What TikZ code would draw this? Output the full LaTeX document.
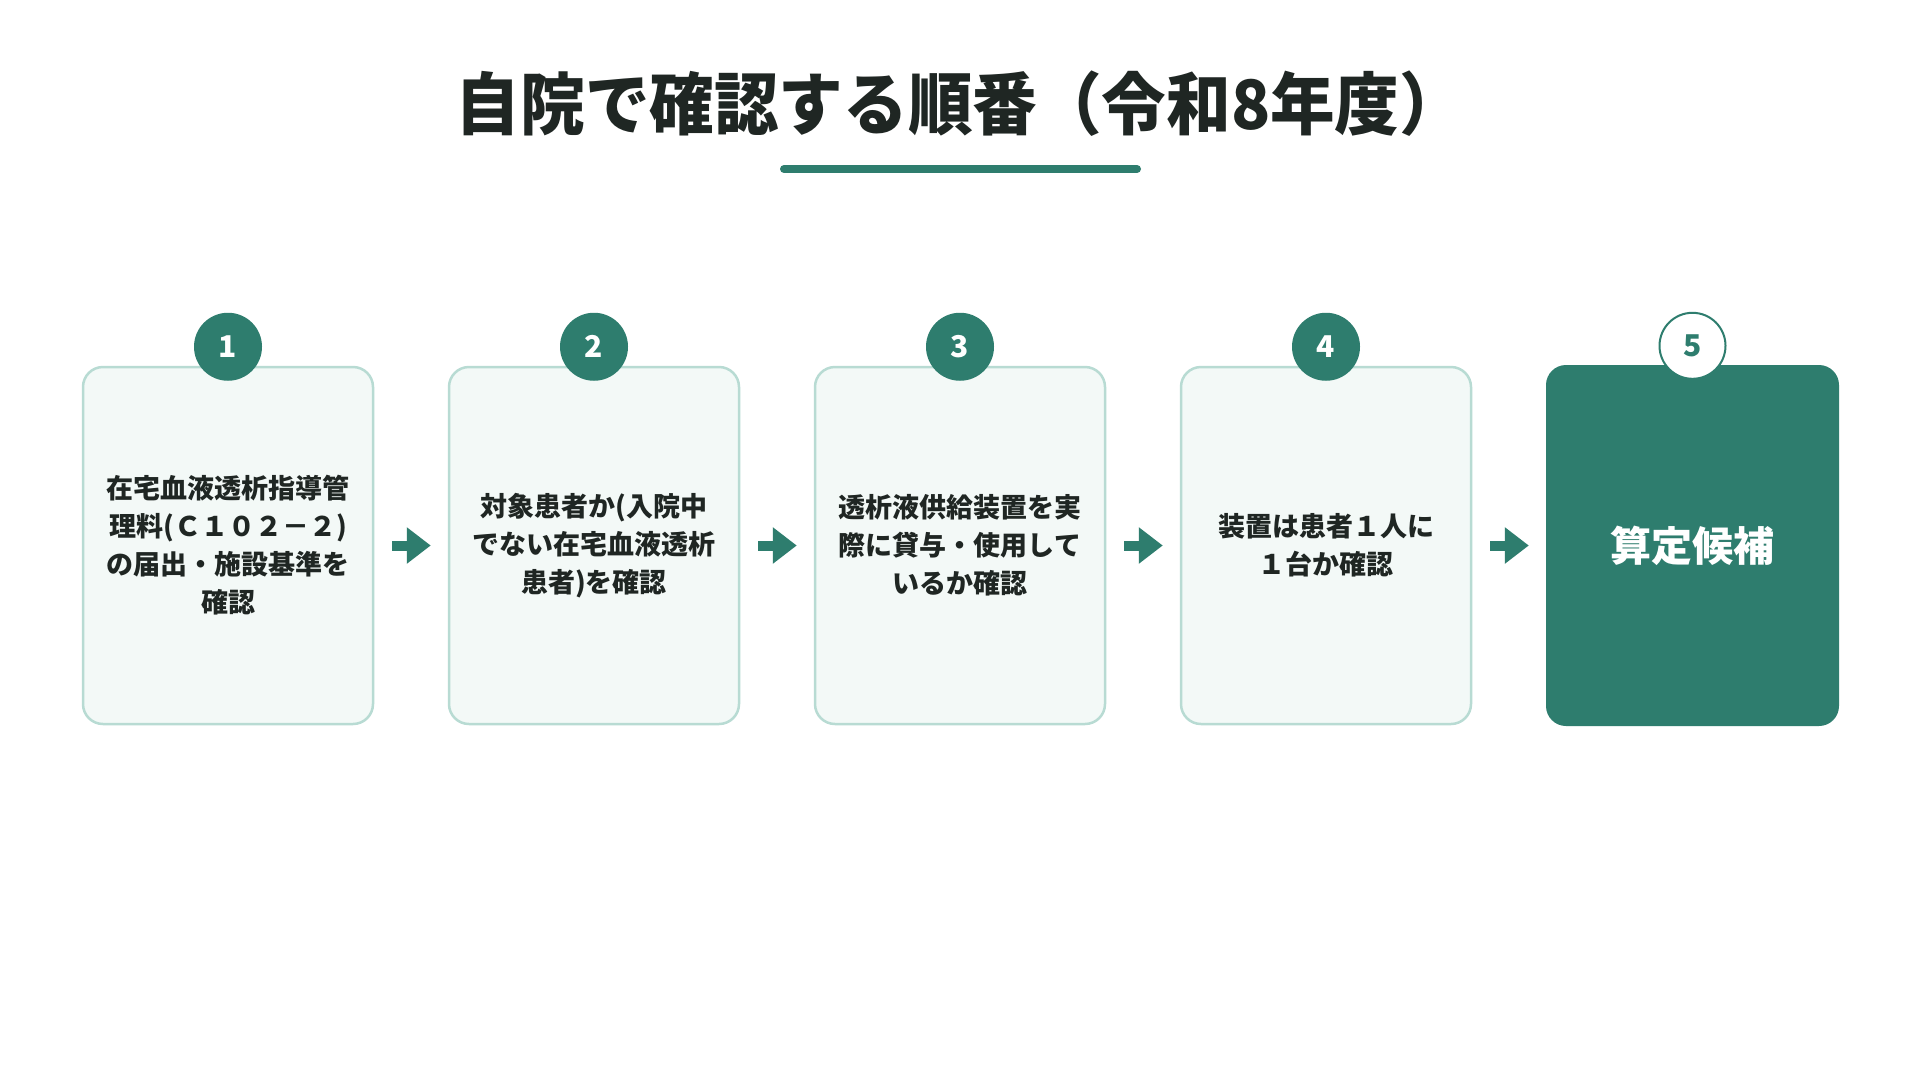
\documentclass[tikz,border=0pt]{standalone}
\usepackage{fontspec}
\usetikzlibrary{arrows.meta}
\newfontfamily\jpblack{Noto Sans CJK JP Black}
\definecolor{teal}{HTML}{2E7D6E}
\definecolor{bordc}{HTML}{B8DBD3}
\definecolor{boxfill}{HTML}{F3F9F7}
\definecolor{ink}{HTML}{1F2623}
\tikzset{
  stepbox/.style={draw=bordc, fill=boxfill, line width=2.5pt, rounded corners=20pt,
    minimum width=290pt, minimum height=357pt, inner sep=0pt},
  finalbox/.style={fill=teal, rounded corners=20pt, minimum width=293pt, minimum height=361pt, inner sep=0pt},
  boxtext/.style={text=ink, align=center, font=\jpblack\fontsize{27}{38}\selectfont},
  numcirc/.style={circle, fill=teal, minimum size=68pt, inner sep=0pt, text=white,
    font=\jpblack\fontsize{30}{30}\selectfont},
  numcircw/.style={circle, fill=white, draw=teal, line width=2pt, minimum size=66pt, inner sep=0pt, text=teal,
    font=\jpblack\fontsize{30}{30}\selectfont},
  flowarrow/.style={draw=teal, line width=10pt, -{Triangle[length=24pt,width=35pt]},
    shorten <=18pt, shorten >=17pt}
}
\begin{document}
\begin{tikzpicture}[x=1pt,y=-1pt]
\useasboundingbox[fill=white] (0,0) rectangle (1920,1080);
% title
\node[text=ink, font=\jpblack\fontsize{68}{68}\selectfont, inner sep=0pt, xscale=0.95] (title) at (960,104) {自院で確認する順番（令和8年度）};
\coordinate (ulA) at (784,169);
\coordinate (ulB) at (1137,169);
\draw[teal, line width=8pt, line cap=round] (ulA) -- (ulB);
% boxes
\node[stepbox] (b1) at (228,545.5) {};
\node[stepbox] (b2) at (594,545.5) {};
\node[stepbox] (b3) at (960,545.5) {};
\node[stepbox] (b4) at (1326,545.5) {};
\node[finalbox] (b5) at (1692.5,545.5) {};
% texts
\node[boxtext] (t1) at (b1.center) {在宅血液透析指導管\\理料(Ｃ１０２－２)\\の届出・施設基準を\\確認};
\node[boxtext] (t2) at (b2.center) {対象患者か(入院中\\でない在宅血液透析\\患者)を確認};
\node[boxtext] (t3) at (b3.center) {透析液供給装置を実\\際に貸与・使用して\\いるか確認};
\node[boxtext] (t4) at (b4.center) {装置は患者１人に\\１台か確認};
\node[text=white, font=\jpblack\fontsize{41}{41}\selectfont] (t5) at (b5.center) {算定候補};
% numbers
\node[numcirc] (n1) at ([yshift=19pt]b1.north) {1};
\node[numcirc] (n2) at ([yshift=19pt]b2.north) {2};
\node[numcirc] (n3) at ([yshift=19pt]b3.north) {3};
\node[numcirc] (n4) at ([yshift=19pt]b4.north) {4};
\node[numcircw] (n5) at ([yshift=19pt]b5.north) {5};
% arrows
\draw[flowarrow] (b1.east) -- (b2.west);
\draw[flowarrow] (b2.east) -- (b3.west);
\draw[flowarrow] (b3.east) -- (b4.west);
\draw[flowarrow] (b4.east) -- (b5.west);
\end{tikzpicture}
\end{document}
